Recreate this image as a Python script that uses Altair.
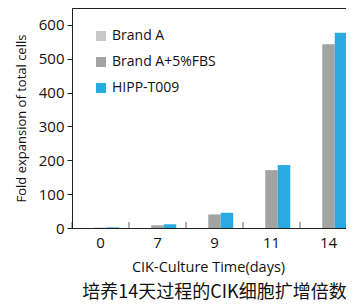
import altair as alt
import pandas as pd

days = ["0", "7", "9", "11", "14"]
series = ["Brand A", "Brand A+5%FBS", "HIPP-T009"]
brand_a = [0, 0, 0, 0, 0]
brand_a_fbs = [1, 8, 40, 171, 543]
hipp = [2, 11, 45, 186, 577]
colors = ["#c8c8c8", "#a3a3a3", "#29abe2"]
y_ticks = [0, 100, 200, 300, 400, 500, 600]

rows = []
for s, vals in zip(series, [brand_a, brand_a_fbs, hipp]):
    for d, v in zip(days, vals):
        rows.append({"day": d, "series": s, "value": v})
df = pd.DataFrame(rows)
tick_df = pd.DataFrame({"day": days})

font = "Open Sans"

x_axis = alt.Axis(
    title="CIK-Culture Time(days)",
    labelAngle=0,
    ticks=False,
    labelPadding=7,
    titlePadding=10,
    titleX=136,
    labelFontSize=15,
    titleFontSize=14.5,
)
y_axis = alt.Axis(
    title="Fold expansion of total cells",
    values=y_ticks,
    labelOverlap=False,
    grid=False,
    tickSize=5,
    labelPadding=3,
    titlePadding=10,
    labelFontSize=15,
    titleFontSize=13,
)
y_scale = alt.Scale(domain=[0, 650], nice=False)
x_scale = alt.Scale(paddingInner=0, paddingOuter=0)

bars = alt.Chart(df).mark_bar().encode(
    x=alt.X("day:N", sort=days, scale=x_scale, axis=x_axis),
    xOffset=alt.XOffset("series:N", sort=series,
                        scale=alt.Scale(paddingInner=0, paddingOuter=0.78)),
    y=alt.Y("value:Q", scale=y_scale, axis=y_axis),
    color=alt.Color(
        "series:N",
        scale=alt.Scale(domain=series, range=colors),
        legend=alt.Legend(
            title=None,
            orient="none",
            legendX=22,
            legendY=21,
            symbolType="square",
            symbolSize=100,
            symbolStrokeWidth=0,
            labelFontSize=14,
            labelFont=font,
            labelColor="#111",
            rowPadding=12,
        ),
    ),
)

ticks = alt.Chart(tick_df).mark_tick(
    orient="vertical", size=6, thickness=1, color="#222", yOffset=-3
).encode(
    x=alt.X("day:N", sort=days, bandPosition=0, scale=x_scale, axis=x_axis),
    y=alt.YDatum(0, scale=y_scale, axis=y_axis),
)

chart = (
    alt.layer(bars, ticks)
    .properties(
        width=285,
        height=220,
        padding={"left": 64, "top": 0, "right": -11, "bottom": 77},
        autosize=alt.AutoSizeParams(type="none"),
        title=alt.TitleParams(
            "培养14天过程的CIK细胞扩增倍数",
            orient="bottom",
            font="Noto Sans CJK SC",
            fontSize=18,
            fontWeight="normal",
            color="#111",
            anchor="middle",
            offset=10,
        ),
    )
    .configure_view(stroke="#222", strokeWidth=1)
    .configure_axis(
        labelFont=font,
        titleFont=font,
        labelColor="#111",
        titleColor="#111",
        titleFontWeight="normal",
        domainColor="#222",
        tickColor="#222",
    )
)

chart.save("out.html", embed_options={"renderer": "svg", "actions": False})
